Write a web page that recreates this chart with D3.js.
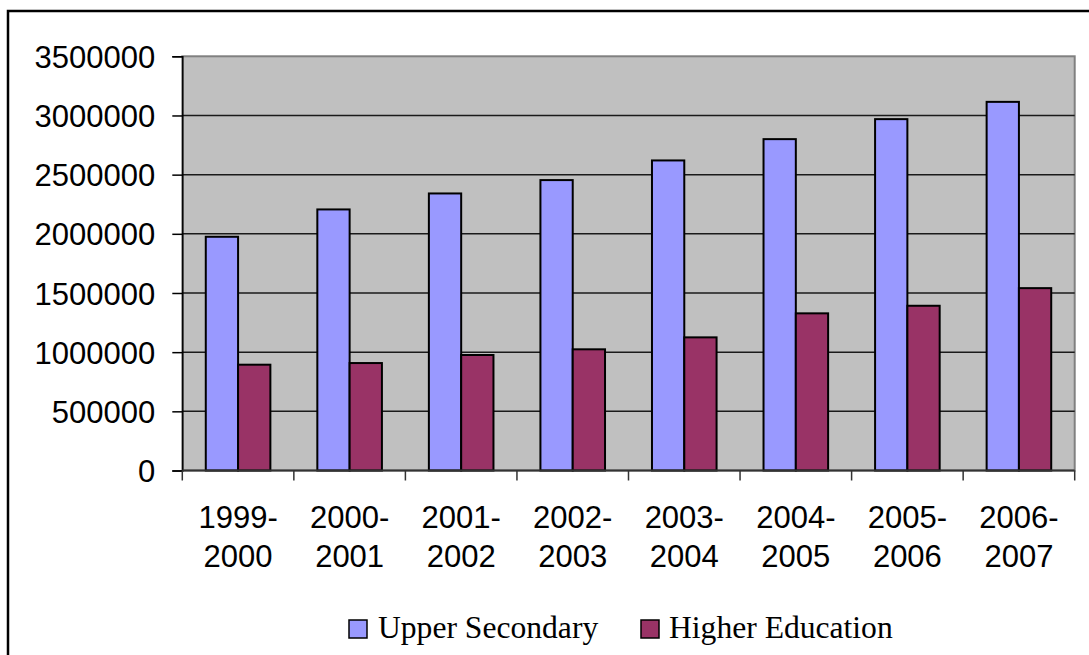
<!DOCTYPE html>
<html>
<head>
<meta charset="utf-8">
<script src="https://cdn.jsdelivr.net/npm/d3@7"></script>
<style>
  html, body { margin: 0; padding: 0; background: #fff; }
  svg { display: block; }
</style>
</head>
<body>
<svg id="chart" width="1089" height="655"></svg>
<script>
// Enrolment by school year
const categories = [
  ["1999-", "2000"], ["2000-", "2001"], ["2001-", "2002"], ["2002-", "2003"],
  ["2003-", "2004"], ["2004-", "2005"], ["2005-", "2006"], ["2006-", "2007"]
];
const seriesNames = ["Upper Secondary", "Higher Education"];
const upperSecondary = [1975000, 2206000, 2341000, 2454000, 2620000, 2800000, 2969000, 3115000];
const higherEducation = [894000, 908000, 976000, 1024000, 1125000, 1328000, 1392000, 1541000];
const yTicks = [0, 500000, 1000000, 1500000, 2000000, 2500000, 3000000, 3500000];
const colors = ["#9999FF", "#993366"];

const svg = d3.select("#chart");
const plot = { left: 182.3, right: 1074.7, top: 56.3, bottom: 470.5 };

const keys = categories.map(c => c.join(""));
const x = d3.scaleBand().domain(keys).range([plot.left, plot.right]).padding(0);
const xs = d3.scaleBand().domain([0, 1]).range([0, x.bandwidth()])
  .paddingInner(0).paddingOuter(0.727);
const y = d3.scaleLinear().domain([0, 3500000]).range([plot.bottom, plot.top]);

// Outer chart frame
svg.append("rect")
  .attr("x", 8).attr("y", 11).attr("width", 1100).attr("height", 700)
  .attr("fill", "none").attr("stroke", "#000").attr("stroke-width", 2.5);

// Plot area background
svg.append("rect")
  .attr("x", plot.left).attr("y", plot.top)
  .attr("width", plot.right - plot.left).attr("height", plot.bottom - plot.top)
  .attr("fill", "#C0C0C0").attr("stroke", "#808080").attr("stroke-width", 2);

// Horizontal gridlines
svg.append("g").selectAll("line")
  .data(yTicks.filter(t => t > 0 && t < 3500000))
  .join("line")
  .attr("x1", plot.left).attr("x2", plot.right)
  .attr("y1", d => y(d)).attr("y2", d => y(d))
  .attr("stroke", "#1a1a1a").attr("stroke-width", 1.5);

// Bars
const series = [upperSecondary, higherEducation];
const groups = svg.append("g").selectAll("g")
  .data(keys.map((k, i) => ({ k, vals: series.map(s => s[i]) })))
  .join("g")
  .attr("transform", d => `translate(${x(d.k)},0)`);

groups.selectAll("rect")
  .data(d => d.vals.map((v, j) => ({ v, j })))
  .join("rect")
  .attr("x", d => xs(d.j))
  .attr("y", d => y(d.v))
  .attr("width", xs.bandwidth())
  .attr("height", d => y(0) - y(d.v))
  .attr("fill", d => colors[d.j])
  .attr("stroke", "#000")
  .attr("stroke-width", 2);

// Y axis
const yAxis = d3.axisLeft(y).tickValues(yTicks).tickSize(10).tickPadding(17)
  .tickFormat(d3.format("d"));
const gy = svg.append("g").attr("transform", `translate(${plot.left},0)`).call(yAxis);
gy.select(".domain").attr("stroke", "#000").attr("stroke-width", 1.5);
gy.selectAll(".tick line").attr("stroke", "#000").attr("stroke-width", 1.5);
gy.selectAll(".tick text")
  .attr("font-family", "Arial, 'Liberation Sans', sans-serif")
  .attr("font-size", 31).attr("fill", "#000").attr("dy", "0.36em");

// X axis (ticks at category boundaries)
const bounds = keys.map(k => x(k)).concat([plot.right]);
svg.append("line")
  .attr("x1", plot.left).attr("x2", plot.right)
  .attr("y1", plot.bottom).attr("y2", plot.bottom)
  .attr("stroke", "#333").attr("stroke-width", 2);
svg.append("g").selectAll("line").data(bounds).join("line")
  .attr("x1", d => d).attr("x2", d => d)
  .attr("y1", plot.bottom).attr("y2", plot.bottom + 10)
  .attr("stroke", "#333").attr("stroke-width", 1.5);

// Category labels (two lines)
const xl = svg.append("g").selectAll("text")
  .data(categories.map((c, i) => ({ c, k: keys[i] })))
  .join("text")
  .attr("text-anchor", "middle")
  .attr("font-family", "Arial, 'Liberation Sans', sans-serif")
  .attr("font-size", 31).attr("fill", "#000");
xl.each(function (d) {
  const t = d3.select(this);
  const cx = x(d.k) + x.bandwidth() / 2;
  t.append("tspan").attr("x", cx).attr("y", 528).text(d.c[0]);
  t.append("tspan").attr("x", cx).attr("y", 567).text(d.c[1]);
});

// Legend
const legendPos = [{ sx: 349, tx: 378 }, { sx: 641, tx: 669 }];
const lg = svg.append("g").selectAll("g").data(seriesNames).join("g");
lg.append("rect")
  .attr("x", (d, i) => legendPos[i].sx).attr("y", 620)
  .attr("width", 18).attr("height", 18)
  .attr("fill", (d, i) => colors[i]).attr("stroke", "#000").attr("stroke-width", 1.5);
lg.append("text")
  .attr("x", (d, i) => legendPos[i].tx).attr("y", 638)
  .attr("font-family", "'Liberation Serif', 'Times New Roman', serif")
  .attr("font-size", 31.6).attr("fill", "#000")
  .text(d => d);
</script>
</body>
</html>
